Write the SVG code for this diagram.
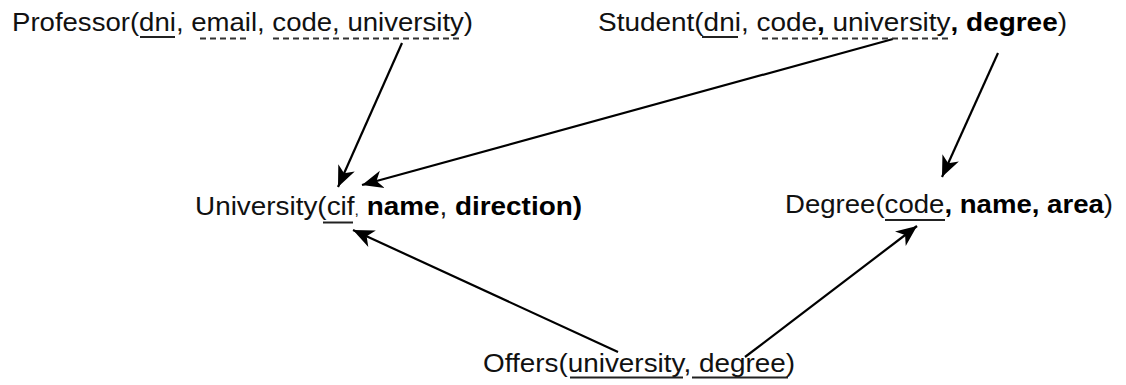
<svg xmlns="http://www.w3.org/2000/svg" width="1126" height="385" viewBox="0 0 1126 385">
<style>
text{font-family:"Liberation Sans",Arial,sans-serif;font-size:25px;fill:#111}
.b{font-weight:bold;fill:#000}
.u{stroke:#222;stroke-width:2}
.d{stroke:#333;stroke-width:2;stroke-dasharray:6 4}
.c{stroke:#000;stroke-width:2.2;fill:none;marker-end:url(#ah)}
</style>
<defs>
<marker id="ah" markerUnits="userSpaceOnUse" markerWidth="22" markerHeight="20" refX="21" refY="9" orient="auto" viewBox="0 0 22 18">
<path d="M0,0 L21,9 L0,18 L6,9 Z" fill="#000"/>
</marker>
</defs>
<rect width="1126" height="385" fill="#fff"/>
<g id="connectors">
<line class="c" x1="402" y1="43" x2="338" y2="187"/>
<line class="c" x1="893" y1="39" x2="362" y2="185"/>
<line class="c" x1="998" y1="53" x2="942" y2="177"/>
<line class="c" x1="618" y1="352" x2="353" y2="230"/>
<line class="c" x1="745" y1="357" x2="917" y2="226"/>
</g>
<g id="professor">
<text x="12" y="31" textLength="461" lengthAdjust="spacingAndGlyphs">Professor(dni, email, code, university)</text>
<line class="u" x1="140" y1="37" x2="175" y2="37"/>
<line class="d" x1="200" y1="38.5" x2="250" y2="38.5"/>
<line class="d" x1="273" y1="38.5" x2="463" y2="38.5"/>
</g>
<g id="student">
<text x="598" y="31" textLength="469" lengthAdjust="spacingAndGlyphs">Student(dni, code<tspan class="b">,</tspan> university<tspan class="b">, degree</tspan>)</text>
<line class="u" x1="702" y1="37" x2="738" y2="37"/>
<line class="d" x1="762" y1="38.5" x2="948" y2="38.5"/>
</g>
<g id="university">
<text x="195" y="215" textLength="387" lengthAdjust="spacingAndGlyphs">University(cif<tspan font-size="14">,</tspan> <tspan class="b">name</tspan>, <tspan class="b">direction)</tspan></text>
<line class="u" x1="323" y1="222.5" x2="353" y2="222.5"/>
</g>
<g id="degree">
<text x="785" y="213" textLength="328" lengthAdjust="spacingAndGlyphs">Degree(code<tspan class="b">, name, area</tspan>)</text>
<line class="u" x1="885" y1="220" x2="945" y2="220"/>
</g>
<g id="offers">
<text x="483" y="372" textLength="312" lengthAdjust="spacingAndGlyphs">Offers(university, degree)</text>
<line class="u" x1="570" y1="377.5" x2="683" y2="377.5"/>
<line class="u" x1="692" y1="377.5" x2="788" y2="377.5"/>
</g>
</svg>
